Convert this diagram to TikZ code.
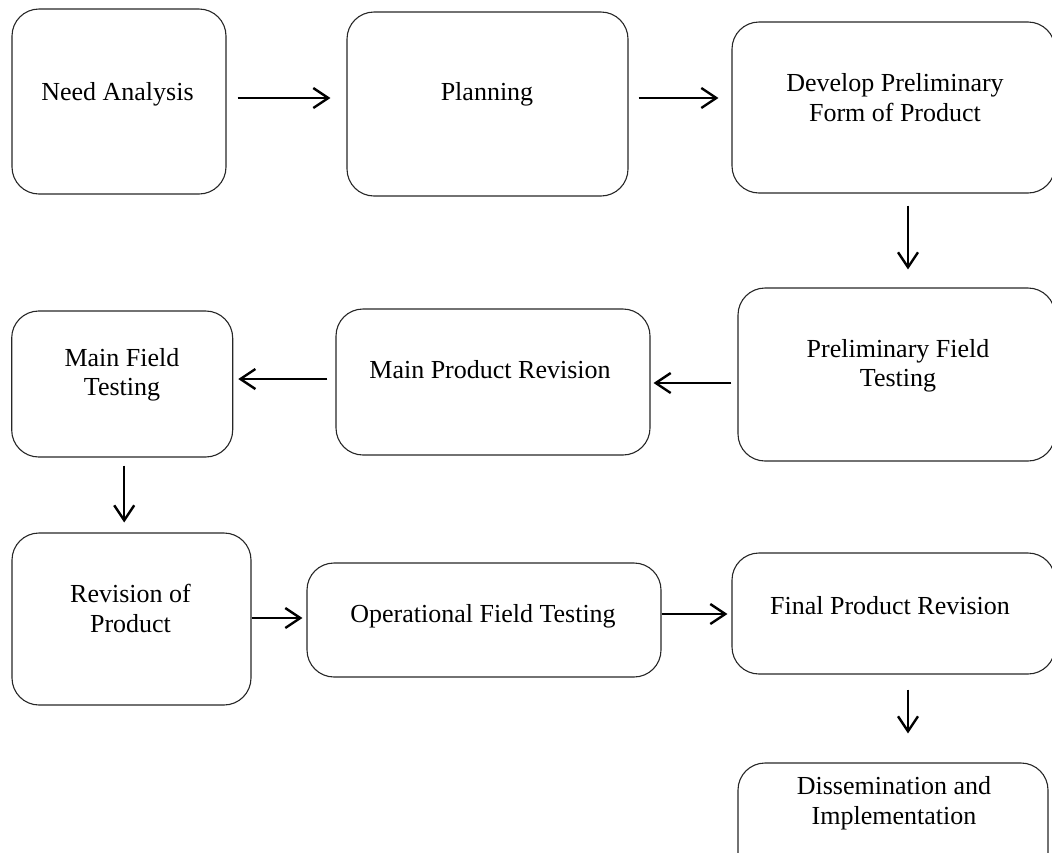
\documentclass[tikz,border=0pt]{standalone}
\usepackage{fontspec}
\setmainfont{Liberation Serif}
\usetikzlibrary{arrows.meta}
\tikzset{
  box/.style={draw=black!85, line width=1.1pt, rounded corners=27pt, rectangle, inner sep=0pt},
  txt/.style={align=center, inner sep=0pt, font=\fontsize{26}{29.5}\selectfont},
  arr/.style={line width=2.4pt, -{Straight Barb[length=15pt,width=20pt,line width=2.4pt]}}
}
\begin{document}
\begin{tikzpicture}[x=1pt,y=-1pt]
\useasboundingbox (0,0) rectangle (1052,852);
% boxes
\node[box, minimum width=214pt, minimum height=185pt] (A) at (119,101.5) {};
\node[box, minimum width=281pt, minimum height=184pt] (B) at (487.5,104) {};
\node[box, minimum width=323pt, minimum height=171pt] (C) at (893.5,107.5) {};
\node[box, minimum width=317pt, minimum height=173pt] (D) at (896.5,374.5) {};
\node[box, minimum width=314pt, minimum height=146pt] (E) at (493,382) {};
\node[box, minimum width=221pt, minimum height=146pt] (F) at (122.2,384) {};
\node[box, minimum width=239pt, minimum height=172pt] (G) at (131.5,619) {};
\node[box, minimum width=354pt, minimum height=114pt] (H) at (484,620) {};
\node[box, minimum width=323pt, minimum height=121pt] (I) at (893.5,613.5) {};
\node[box, minimum width=310pt, minimum height=117pt] (J) at (893,821.5) {};
% texts
\node[txt] (At) at (117.5,94) {Need Analysis};
\node[txt] (Bt) at (487,94) {Planning};
\node[txt] (Ct) at (895,97.7) {Develop Preliminary\\Form of Product};
\node[txt] (Dt) at (898,366) {Preliminary Field\\Testing};
\node[txt] (Et) at (490,370) {Main Product Revision};
\node[txt] (Ft) at (122,375) {Main Field\\Testing};
\node[txt] (Gt) at (130.5,608.6) {Revision of\\Product};
\node[txt] (Ht) at (483,616) {Operational Field Testing};
\node[txt] (It) at (890,606) {Final Product Revision};
\node[txt] (Jt) at (894,803) {Dissemination and\\Implementation};
% connectors
\draw[arr, shorten <=11pt, shorten >=16pt] ([yshift=3.5pt]A.east) -- ([yshift=3.5pt]A.east -| B.west);
\draw[arr, shorten <=10pt, shorten >=13pt] ([yshift=6pt]B.east) -- ([yshift=6pt]B.east -| C.west);
\draw[arr, shorten <=12pt, shorten >=18pt] ([xshift=14.5pt]C.south) -- ([xshift=14.5pt]C.south |- D.north);
\draw[arr, shorten <=6pt, shorten >=3pt] ([yshift=-8.5pt]D.west) -- ([yshift=-8.5pt]D.west -| E.east);
\draw[arr, shorten <=8pt, shorten >=5pt] ([yshift=3pt]E.west) -- ([yshift=3pt]E.west -| F.east);
\draw[arr, shorten <=8pt, shorten >=10pt] ([xshift=2pt]F.south) -- ([xshift=2pt]F.south |- G.north);
\draw[arr, shorten >=4pt] ([yshift=1pt]G.east) -- ([yshift=1pt]G.east -| H.west);
\draw[arr, shorten >=4pt] ([yshift=6pt]H.east) -- ([yshift=6pt]H.east -| I.west);
\draw[arr, shorten <=15pt, shorten >=29pt] ([xshift=14.5pt]I.south) -- ([xshift=14.5pt]I.south |- J.north);
\end{tikzpicture}
\end{document}
